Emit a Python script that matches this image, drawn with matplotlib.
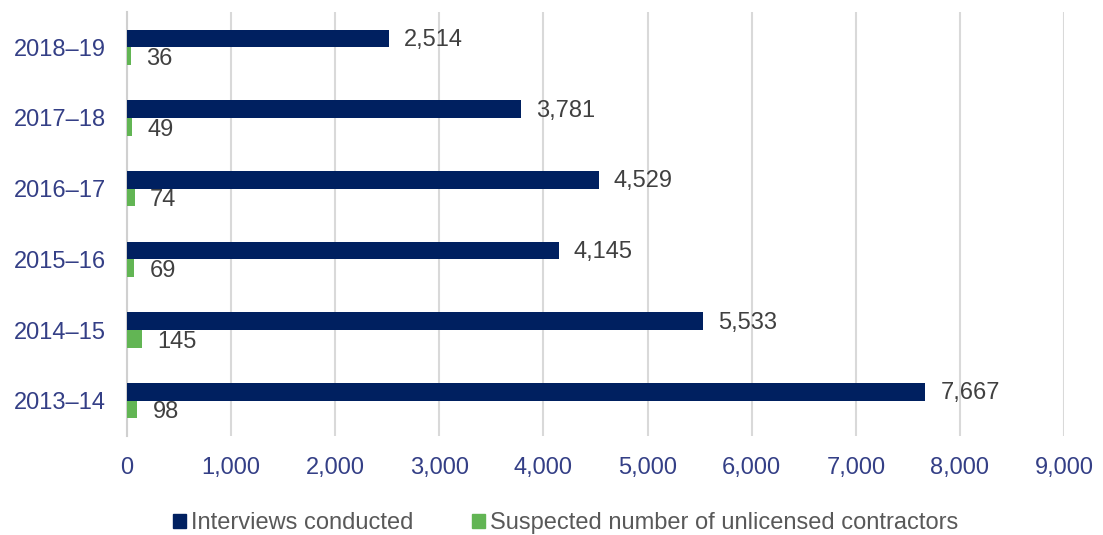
import matplotlib
matplotlib.use("Agg")
import matplotlib.pyplot as plt
from matplotlib.patches import Patch
import numpy as np

# Données (de bas en haut)
annees = ["2013–14", "2014–15", "2015–16", "2016–17", "2017–18", "2018–19"]
entretiens = [7667, 5533, 4145, 4529, 3781, 2514]
non_licencies = [98, 145, 69, 74, 49, 36]
xticks = [0, 1000, 2000, 3000, 4000, 5000, 6000, 7000, 8000, 9000]

bleu = "#002060"
vert = "#62B554"
couleur_ticks = "#343F86"
couleur_valeurs = "#404040"
couleur_legende = "#595959"

plt.rcParams['font.family'] = ['Liberation Sans', 'DejaVu Sans']

fig = plt.figure(figsize=(11.03, 5.35), dpi=100)
ax = fig.add_axes([0.1151, 0.185, 0.8496, 0.7926])

y = np.arange(len(annees))
h = 0.25
ax.barh(y + h / 2, entretiens, height=h, color=bleu, zorder=3)
ax.barh(y - h / 2, non_licencies, height=h, color=vert, zorder=3)

# Étiquettes de valeurs
for i in range(len(annees)):
    ax.annotate(f"{entretiens[i]:,}", (entretiens[i], y[i] + h / 2), xytext=(11, -1),
                textcoords="offset points", va="center", ha="left",
                fontsize=17, color=couleur_valeurs)
    ax.annotate(f"{non_licencies[i]:,}", (non_licencies[i], y[i] - h / 2), xytext=(11, -2),
                textcoords="offset points", va="center", ha="left",
                fontsize=17, color=couleur_valeurs)

ax.set_xlim(0, 9000)
ax.set_ylim(-0.5, 5.5)
ax.set_xticks(xticks)
ax.set_xticklabels([f"{v:,}" for v in xticks])
ax.set_yticks(y)
ax.set_yticklabels(annees)
ax.tick_params(axis="x", length=0, pad=15, labelsize=17, labelcolor=couleur_ticks)
ax.tick_params(axis="y", length=0, pad=15, labelsize=17, labelcolor=couleur_ticks)

ax.grid(axis="x", color="#D9D9D9", linewidth=1.5, zorder=0)
for cote in ["top", "right", "bottom"]:
    ax.spines[cote].set_visible(False)
ax.spines["left"].set_color("#D0D0D0")
ax.spines["left"].set_linewidth(1.5)

poignees = [Patch(color=bleu, label="Interviews conducted"),
            Patch(color=vert, label="Suspected number of unlicensed contractors")]
fig.legend(handles=poignees, loc="center", bbox_to_anchor=(0.513, 0.022), ncol=2,
           frameon=False, fontsize=17, labelcolor=couleur_legende,
           handlelength=0.55, handleheight=0.55, handletextpad=0.2, columnspacing=2.5)

fig.savefig("out.png", dpi=100)
